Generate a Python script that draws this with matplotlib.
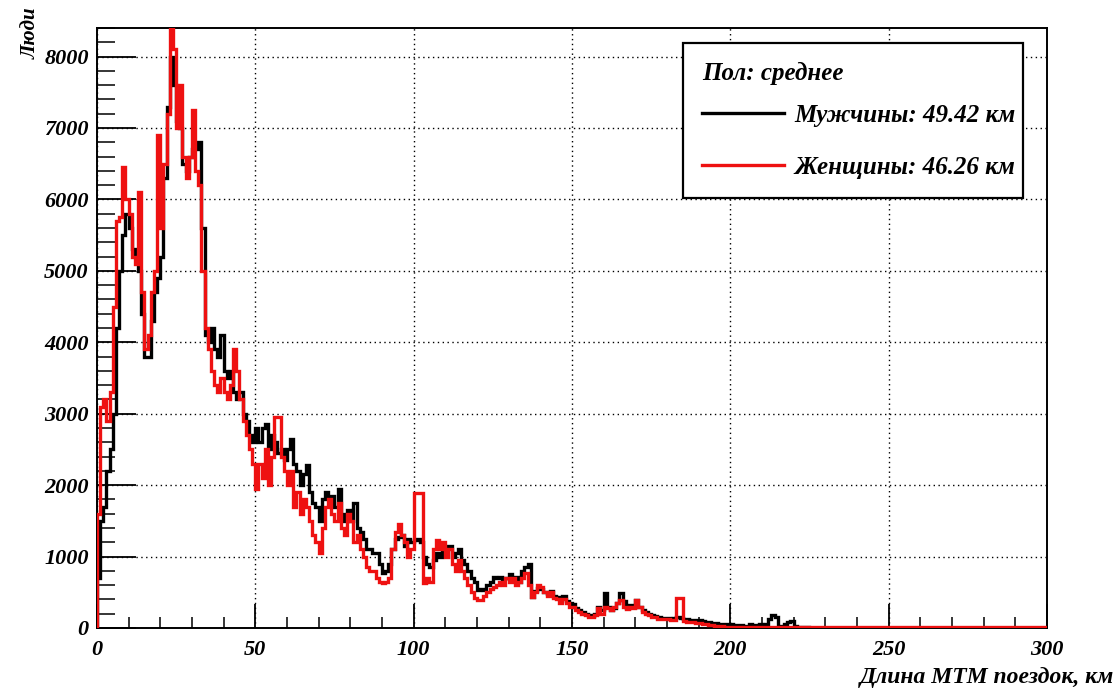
import numpy as np
import matplotlib
matplotlib.use("Agg")
import matplotlib.pyplot as plt
from matplotlib.ticker import MultipleLocator

# 1 km bins, 0..300 km
edges = np.arange(0, 301, 1)

men = [
    700, 1500, 1700, 2200, 2500, 3000, 4200, 5000, 5500, 5800,
    5600, 5300, 5200, 5000, 4400, 3800, 3800, 4300, 4700, 4900,
    5200, 6300, 7300, 8000, 7600, 7100, 7000, 6500, 6400, 6600,
    6700, 6700, 6800, 5600, 4100, 4000, 4200, 3900, 3800, 4100,
    3600, 3500, 3600, 3300, 3200, 3300, 3000, 2900, 2700, 2600,
    2800, 2600, 2800, 2850, 2500, 2700, 2600, 2450, 2500, 2350,
    2500, 2650, 2300, 2200, 2000, 2150, 2280, 1900, 1750, 1700,
    1500, 1800, 1900, 1850, 1850, 1700, 1950, 1600, 1500, 1650,
    1500, 1750, 1400, 1350, 1250, 1100, 1100, 1050, 1050, 900,
    770, 800, 900, 1100, 1250, 1280, 1300, 1150, 1250, 1200,
    1230, 1250, 1200, 1000, 900, 860, 950, 1050, 1000, 1100,
    1100, 1150, 1000, 1050, 1100, 950, 900, 800, 700, 650,
    530, 550, 530, 600, 650, 720, 700, 720, 680, 700,
    750, 700, 720, 650, 800, 850, 900, 440, 520, 560,
    550, 500, 480, 520, 450, 430, 400, 450, 380, 350,
    330, 280, 250, 220, 200, 180, 170, 200, 300, 250,
    490, 300, 250, 280, 350, 490, 380, 280, 320, 300,
    390, 300, 250, 220, 200, 180, 170, 150, 140, 140,
    140, 130, 140, 150, 140, 120, 120, 110, 110, 110,
    110, 100, 90, 80, 70, 70, 60, 60, 50, 50,
    50, 40, 40, 40, 30, 30, 60, 40, 30, 60,
    40, 60, 120, 180, 150, 30, 30, 60, 80, 100,
    30, 20, 20, 10, 10, 0, 0, 0, 0, 0,
    0, 0, 0, 0, 0, 0, 0, 0, 0, 0,
    0, 0, 0, 0, 0, 0, 0, 0, 0, 0,
    0, 0, 0, 0, 0, 0, 0, 0, 0, 0,
    0, 0, 0, 0, 0, 0, 0, 0, 0, 0,
    0, 0, 0, 0, 0, 0, 0, 0, 0, 0,
    0, 0, 0, 0, 0, 0, 0, 0, 0, 0,
    0, 0, 0, 0, 0, 0, 0, 0, 0, 0,
]

women = [
    1600, 3100, 3200, 2900, 3300, 4500, 5700, 5750, 6450, 6000,
    5800, 5200, 5100, 6100, 4700, 3900, 4100, 4700, 5000, 6900,
    5600, 6500, 7200, 8400, 8100, 7000, 7600, 6600, 6300, 6600,
    7250, 6400, 6200, 5000, 4200, 3900, 3600, 3400, 3300, 3500,
    3300, 3200, 3400, 3900, 3600, 3200, 2900, 2700, 2500, 2300,
    1950, 2300, 2100, 2500, 2000, 2400, 2950, 2950, 2400, 2200,
    2000, 2200, 1700, 1900, 1600, 1800, 1700, 1500, 1300, 1200,
    1050, 1400, 1700, 1800, 1600, 1500, 1750, 1400, 1300, 1600,
    1500, 1200, 1300, 1100, 1000, 850, 800, 800, 700, 650,
    630, 650, 700, 1100, 1350, 1450, 1300, 1200, 1000, 1100,
    1890, 1890, 1890, 630, 700, 650, 1100, 1230, 1100, 1200,
    1000, 1100, 900, 800, 950, 800, 700, 600, 500, 420,
    390, 390, 450, 500, 550, 580, 600, 650, 600, 700,
    650, 700, 600, 650, 700, 770, 600, 440, 500, 600,
    580, 500, 450, 500, 420, 400, 350, 400, 350, 300,
    300, 250, 220, 200, 180, 160, 150, 180, 280, 200,
    300, 280, 250, 300, 350, 390, 300, 260, 300, 280,
    390, 300, 230, 200, 180, 160, 150, 130, 120, 120,
    120, 110, 110, 420, 420, 100, 90, 80, 80, 70,
    70, 60, 50, 40, 40, 30, 30, 30, 20, 20,
    20, 20, 20, 20, 20, 20, 20, 20, 20, 20,
    20, 20, 20, 20, 20, 20, 20, 20, 20, 20,
    20, 20, 20, 15, 15, 15, 15, 15, 15, 15,
    15, 15, 15, 15, 15, 15, 15, 15, 15, 15,
    15, 15, 15, 15, 15, 15, 15, 15, 15, 15,
    15, 15, 15, 15, 15, 15, 15, 15, 15, 15,
    15, 15, 15, 15, 15, 15, 15, 15, 15, 15,
    15, 15, 15, 15, 15, 15, 15, 15, 15, 15,
    15, 15, 15, 15, 15, 15, 15, 15, 15, 15,
    15, 15, 15, 15, 15, 15, 15, 15, 15, 15,
]

legend_title = "Пол: среднее"
labels = ["Мужчины: 49.42 км", "Женщины: 46.26 км"]

font = dict(family="Liberation Serif", weight="bold", style="italic")

fig = plt.figure(figsize=(11.2, 6.93), dpi=100)
ax = fig.add_axes([0.0866, 0.0938, 0.8482, 0.8658])

ax.stairs(men, edges, color="black", lw=2.4, zorder=3, label=labels[0])
ax.stairs(women, edges, color="#ee1111", lw=2.4, zorder=4, label=labels[1])

ax.set_xlim(0, 300)
ax.set_ylim(0, 8400)

ax.xaxis.set_major_locator(MultipleLocator(50))
ax.xaxis.set_minor_locator(MultipleLocator(10))
ax.yaxis.set_major_locator(MultipleLocator(1000))
ax.yaxis.set_minor_locator(MultipleLocator(200))
ax.tick_params(axis="x", which="major", direction="in", length=17, width=1.3, pad=9)
ax.tick_params(axis="x", which="minor", direction="in", length=8, width=1.1)
ax.tick_params(axis="y", which="major", direction="in", length=28, width=1.3, pad=6)
ax.tick_params(axis="y", which="minor", direction="in", length=13, width=1.1)

for lab in ax.get_xticklabels() + ax.get_yticklabels():
    lab.set_fontfamily(font["family"])
    lab.set_fontweight("bold")
    lab.set_fontstyle("italic")
    lab.set_fontsize(16)

ax.grid(True, which="major", color="black", linestyle=(0, (1, 2.5)), lw=1.0)
for sp in ax.spines.values():
    sp.set_linewidth(1.4)

fig.text(0.995, 0.022, "Длина МТМ поездок, км", ha="right", va="center",
         fontsize=17, **font)
fig.text(0.027, 0.99, "Люди", ha="center", va="top", rotation=90,
         fontsize=15, **font)

leg = ax.legend(loc="upper left", bbox_to_anchor=(0.617, 0.735, 0.358, 0.24),
                mode="expand", title=legend_title, alignment="left",
                prop=dict(size=18, **font), title_fontproperties=dict(size=18, **font),
                frameon=True, fancybox=False, edgecolor="black", framealpha=1,
                handlelength=3.3, handletextpad=0.4, labelspacing=1.15,
                borderpad=0.75, borderaxespad=0)
leg.get_frame().set_linewidth(1.6)
leg._legend_box.sep = 14
for line in leg.get_lines():
    line.set_linewidth(2.4)

fig.savefig("out.png", dpi=100)
